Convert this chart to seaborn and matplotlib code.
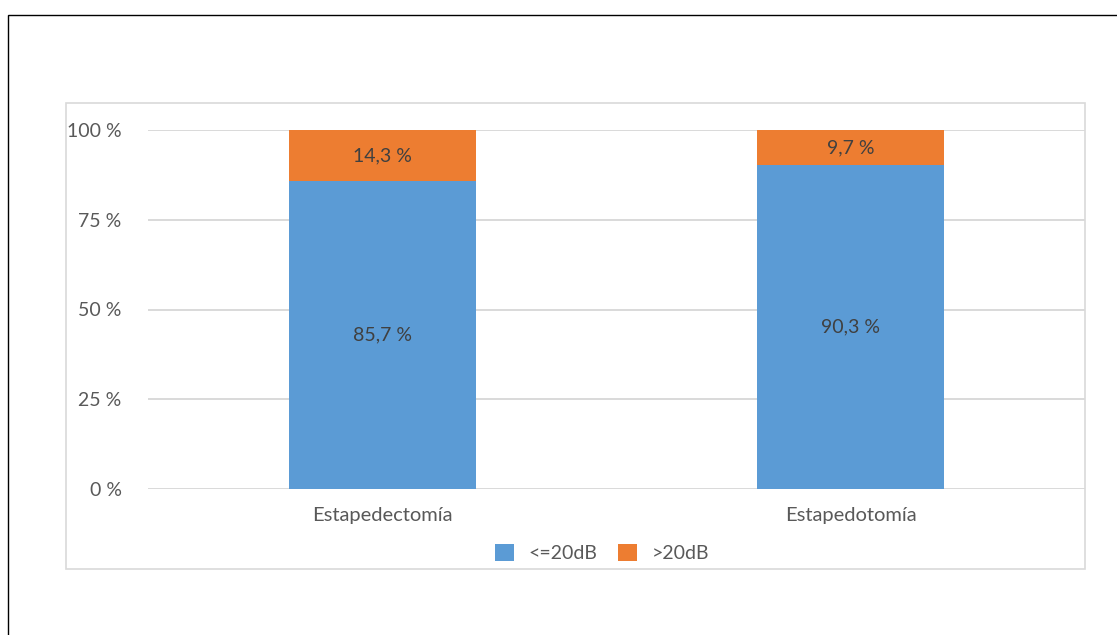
import matplotlib
matplotlib.use("Agg")
import matplotlib.pyplot as plt
from matplotlib.patches import Rectangle, Patch
import seaborn as sns

categories = ["Estapedectomía", "Estapedotomía"]
low_vals = [85.7, 90.3]     # <=20dB
high_vals = [14.3, 9.7]     # >20dB
series_names = ["<=20dB", ">20dB"]
yticks = [0, 25, 50, 75, 100]
ytick_labels = ["0 %", "25 %", "50 %", "75 %", "100 %"]

BLUE = "#5B9BD5"
ORANGE = "#ED7D31"
GRID = "#D9D9D9"
TXT = "#595959"

sns.set_theme(style="white")
plt.rcParams["font.family"] = ["Lato", "DejaVu Sans"]

fig = plt.figure(figsize=(11.17, 6.35), dpi=100)
ax = fig.add_axes([148/1117, 1-489/635, (1085-148)/1117, (489-130)/635])

totals = [a + b for a, b in zip(low_vals, high_vals)]
sns.barplot(x=categories, y=totals, color=ORANGE, saturation=1, width=0.4,
            linewidth=0, ax=ax, zorder=3)
sns.barplot(x=categories, y=low_vals, color=BLUE, saturation=1, width=0.4,
            linewidth=0, ax=ax, zorder=3)

ax.set_xlim(-0.5, 1.5)
ax.set_ylim(0, 100)
ax.set_yticks(yticks)
ax.set_yticklabels(ytick_labels)
ax.yaxis.grid(True, color=GRID, linewidth=1.4, zorder=0)
ax.set_axisbelow(True)
for s in ax.spines.values():
    s.set_visible(False)
ax.tick_params(axis="both", length=0, colors=TXT)
ax.tick_params(axis="y", pad=19, labelsize=14)
ax.tick_params(axis="x", pad=13, labelsize=14.5)
ax.set_xlabel("")
ax.set_ylabel("")

for i, (lo, hi) in enumerate(zip(low_vals, high_vals)):
    ax.text(i, lo / 2, f"{lo:.1f} %".replace(".", ","), ha="center", va="center",
            fontsize=14, color="#404040", zorder=4)
    ax.text(i, lo + hi / 2, f"{hi:.1f} %".replace(".", ","), ha="center", va="center",
            fontsize=14, color="#404040", zorder=4)

handles = [Patch(facecolor=BLUE, edgecolor="none"), Patch(facecolor=ORANGE, edgecolor="none")]
fig.legend(handles, series_names, loc="center", bbox_to_anchor=(602/1117, 1-553/635),
           ncol=2, frameon=False, fontsize=14, labelcolor=TXT,
           handlelength=1.0, handleheight=1.0, handletextpad=0.75, columnspacing=1.05)

# inner chart frame
fig.add_artist(Rectangle((66/1117, 1-569/635), (1085-66)/1117, (569-103)/635,
                         transform=fig.transFigure, fill=False, edgecolor=GRID, linewidth=1.2))
# outer black frame (only top and left visible)
fig.add_artist(Rectangle((8/1117, -0.2), 1.3, (1-15/635) + 0.2,
                         transform=fig.transFigure, fill=False, edgecolor="black", linewidth=1.0))

fig.savefig("out.png", dpi=100)
